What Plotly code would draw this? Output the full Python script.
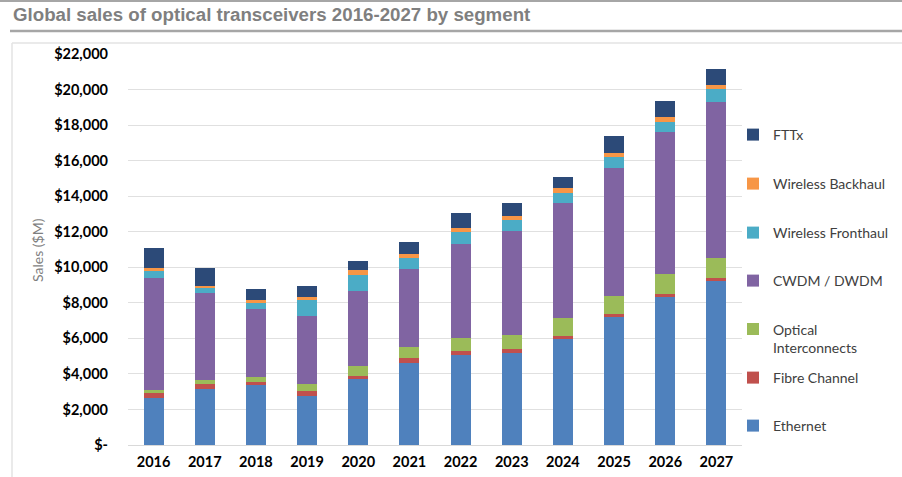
import plotly.graph_objects as go

years = ["2016", "2017", "2018", "2019", "2020", "2021", "2022", "2023", "2024", "2025", "2026", "2027"]

ethernet = [2670, 3140, 3360, 2780, 3690, 4640, 5040, 5150, 5940, 7180, 8330, 9200]
fibre_channel = [230, 280, 210, 270, 180, 230, 230, 230, 210, 190, 190, 200]
optical_interconnects = [220, 210, 280, 410, 570, 640, 730, 790, 990, 1020, 1090, 1110]
cwdm_dwdm = [6300, 4950, 3790, 3800, 4230, 4380, 5290, 5880, 6480, 7200, 8000, 8790]
wireless_fronthaul = [420, 240, 390, 920, 880, 660, 710, 620, 580, 610, 580, 710]
wireless_backhaul = [110, 130, 110, 150, 290, 210, 210, 230, 260, 220, 260, 270]
fttx = [1130, 1020, 660, 590, 520, 670, 860, 720, 620, 960, 880, 880]

segment_names = ["Ethernet", "Fibre Channel", "Optical<br>Interconnects", "CWDM / DWDM",
                 "Wireless Fronthaul", "Wireless Backhaul", "FTTx"]
segment_values = [ethernet, fibre_channel, optical_interconnects, cwdm_dwdm,
                  wireless_fronthaul, wireless_backhaul, fttx]
segment_colors = ["#4F81BD", "#C0504D", "#9BBB59", "#8064A2", "#4BACC6", "#F79646", "#2C4A78"]

y_tickvals = [0, 2000, 4000, 6000, 8000, 10000, 12000, 14000, 16000, 18000, 20000, 22000]
y_ticktext = ["$-", "$2,000", "$4,000", "$6,000", "$8,000", "$10,000", "$12,000",
              "$14,000", "$16,000", "$18,000", "$20,000", "$22,000"]

title_text = "Global sales of optical transceivers 2016-2027 by segment"
y_title = "Sales ($M)"

# ---- layout geometry (pixels) ----
W, H = 902, 477
PL, PR, PT, PB = 128, 742, 54, 445


def px(x):
    return (x - PL) / (PR - PL)


def py(y):
    return (PB - y) / (PB - PT)


legend_centers = [426, 378, 338.5, 281, 233, 184, 135]
legend_ids = ["legend", "legend2", "legend3", "legend4", "legend5", "legend6", "legend7"]

fig = go.Figure()
for name, vals, col, lid in zip(segment_names, segment_values, segment_colors, legend_ids):
    fig.add_trace(go.Bar(x=years, y=vals, name=name, marker=dict(color=col, line=dict(width=0)),
                         legend=lid))

font_main = "Lato, 'Open Sans', sans-serif"
legend_layout = {}
for lid, cy in zip(legend_ids, legend_centers):
    legend_layout[lid] = dict(
        x=px(733), xanchor="left", xref="paper",
        y=py(cy), yanchor="middle", yref="paper",
        bgcolor="rgba(0,0,0,0)", borderwidth=0,
        font=dict(family=font_main, size=14, color="#404040"),
        valign="top", itemclick=False, itemdoubleclick=False,
    )

fig.update_layout(
    width=W, height=H,
    margin=dict(l=PL, r=W - PR, t=PT, b=H - PB, autoexpand=False),
    paper_bgcolor="white", plot_bgcolor="white",
    barmode="stack", bargap=0.61,
    showlegend=True,
    font=dict(family=font_main, color="#000000"),
    xaxis=dict(
        type="category", showgrid=False, zeroline=False, showline=False,
        ticks="", tickfont=dict(family=font_main, size=14.5, color="#000000", weight="bold"),
        ticklabelstandoff=6,
    ),
    yaxis=dict(
        range=[0, 22000], tickvals=y_tickvals, ticktext=y_ticktext,
        showgrid=True, gridcolor="#E0E0E0", gridwidth=1,
        zeroline=True, zerolinecolor="#D9D9D9", zerolinewidth=1,
        showline=False, ticks="",
        tickfont=dict(family=font_main, size=14.5, color="#000000", weight="bold"),
        ticklabelstandoff=19,
    ),
    **legend_layout,
)

# title and axis title
fig.add_annotation(
    text=title_text, xref="paper", yref="paper", x=px(11), y=py(14.5),
    xanchor="left", yanchor="middle", showarrow=False,
    font=dict(family="'Liberation Sans', Arial, sans-serif", size=18.7, color="#7F7F7F", weight="bold"),
)
fig.add_annotation(
    text=y_title, xref="paper", yref="paper", x=px(37), y=py(250),
    xanchor="center", yanchor="middle", showarrow=False, textangle=-90,
    font=dict(family=font_main, size=14, color="#7F7F7F"),
)

# decorative rules / frame
fig.add_shape(type="line", xref="paper", yref="paper", x0=px(0), x1=px(W), y0=py(1), y1=py(1),
              line=dict(color="#A6A6A6", width=2))
fig.add_shape(type="line", xref="paper", yref="paper", x0=px(10), x1=px(W), y0=py(31), y1=py(31),
              line=dict(color="#A6A6A6", width=2.5))
fig.add_shape(type="line", xref="paper", yref="paper", x0=px(12), x1=px(W), y0=py(43), y1=py(43),
              line=dict(color="#E3E3E3", width=1.5))
fig.add_shape(type="line", xref="paper", yref="paper", x0=px(12), x1=px(12), y0=py(43), y1=py(H),
              line=dict(color="#E3E3E3", width=1.5))

fig.write_html("out.html")
